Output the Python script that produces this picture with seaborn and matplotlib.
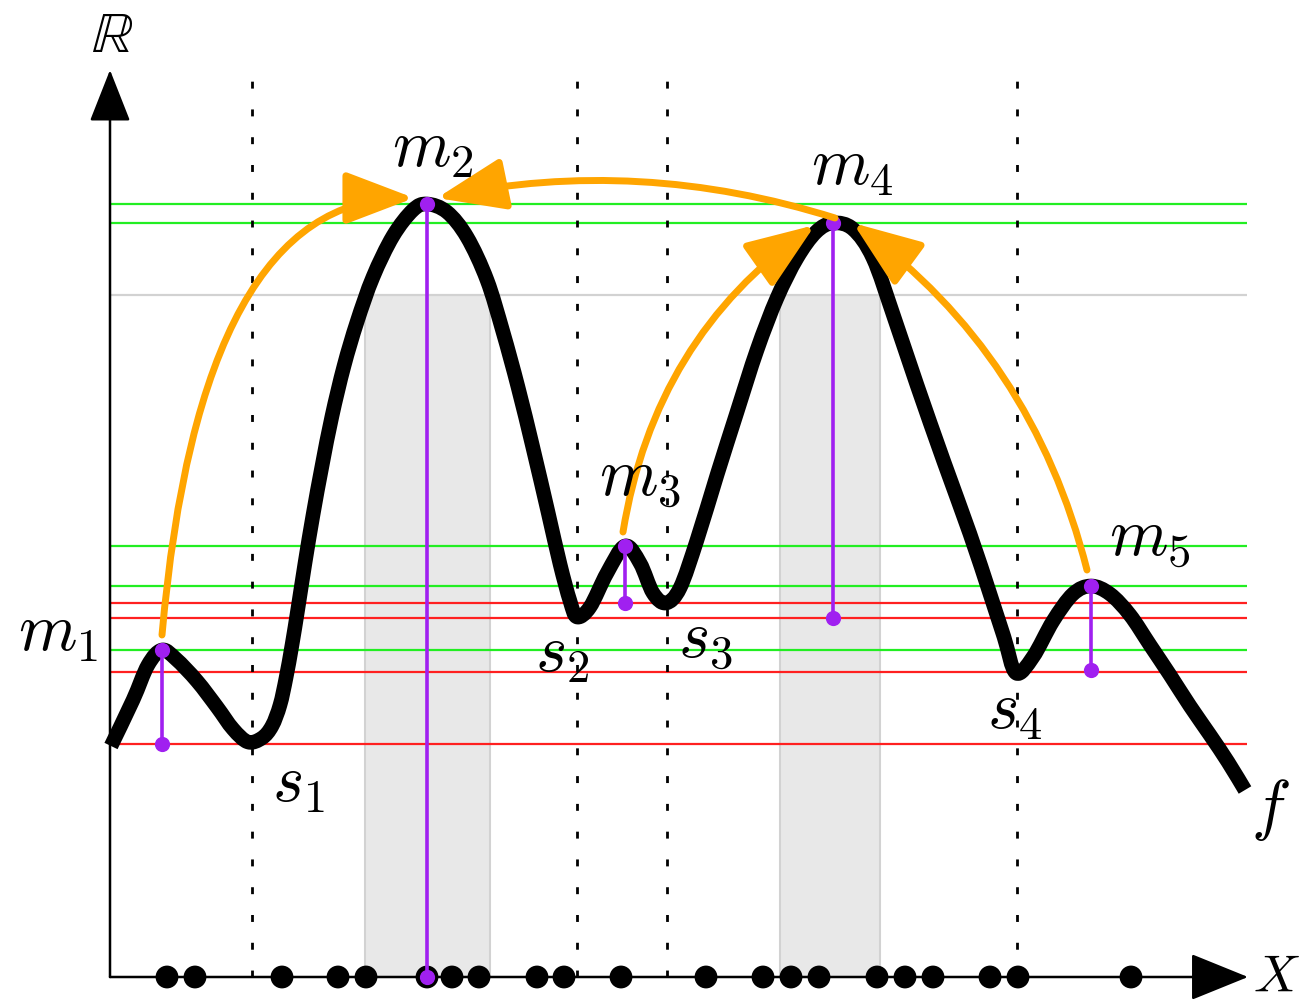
import matplotlib
matplotlib.use("Agg")
import matplotlib.pyplot as plt
from matplotlib.patches import FancyArrowPatch, PathPatch
from matplotlib.path import Path
import numpy as np
import seaborn as sns

# curve f (x from the origin, height above the X axis)
curve_x = [1, 23, 38, 52, 66, 87, 107, 123, 138, 152, 162, 170, 176, 182, 188, 195,
           203, 212, 222, 234, 247, 263, 283, 303, 317, 337, 357, 377, 393, 408, 423,
           438, 450, 460, 467, 480, 497, 515, 530, 543, 556, 570, 587, 607, 627, 647,
           667, 687, 706, 723, 743, 763, 784, 807, 834, 860, 880, 894, 906, 923, 943,
           963, 981, 1000, 1020, 1040, 1060, 1080, 1100, 1118, 1135]
curve_f = [231, 277, 312, 327, 318, 296, 270, 248, 235, 239, 251, 272, 299, 332, 369, 414,
           462, 511, 561, 611, 655, 700, 741, 767, 773, 765, 740, 697, 645, 590, 529,
           465, 413, 376, 360, 370, 404, 431, 414, 384, 374, 389, 437, 502, 565, 627,
           679, 719, 745, 754, 748, 719, 660, 592, 515, 443, 383, 340, 304, 320, 356,
           383, 391, 383, 362, 332, 302, 271, 242, 215, 187]

# critical points
max_x = [52, 317, 515, 723, 981]
max_f = [327, 773, 431, 754, 391]
death_f = [233, 0, 374, 359, 307]
min_x = [142, 467, 557, 907]
min_f = [233, 359, 374, 305]

# threshold level and the two grey strips
grey_level = 682
strips = [(255, 380), (670, 770)]

# sample points on X
samples = [57, 85, 172, 228, 256, 317, 342, 369, 427, 454, 511, 596, 653, 681, 709,
           767, 795, 823, 880, 908, 1021]

# merge arrows: (start, end, connection style)
arrows = [((52, 342), (304, 779), "angle3,angleA=85,angleB=0"),
          ((725, 759), (327, 779), "arc3,rad=0.13"),
          ((513, 445), (705, 752), "arc3,rad=-0.21"),
          ((977, 407), (743, 754), "arc3,rad=0.18")]

labels = {r"$m_1$": (-52, 345), r"$m_2$": (323, 829), r"$m_3$": (530, 499),
          r"$m_4$": (742, 811), r"$m_5$": (1040, 439), r"$s_1$": (188, 194),
          r"$s_2$": (452, 324), r"$s_3$": (595, 337), r"$s_4$": (905, 267),
          r"$f$": (1160, 167)}

x_end = 1137

sns.set_theme(style="white")
plt.rcParams["mathtext.fontset"] = "cm"
plt.rcParams["text.color"] = "black"

fig = plt.figure(figsize=(13.16, 10.01), dpi=100)
ax = fig.add_axes([0, 0, 1, 1])
ax.set_xlim(-110, 1206)
ax.set_ylim(-24, 977)
ax.axis("off")

# grey strips and the grey level
for a, b in strips:
    ax.fill_between([a, b], 0, grey_level, color="#e8e8e8", lw=0, zorder=1)
    ax.vlines([a, b], 0, grey_level, color="#d2d2d2", lw=1.5, zorder=1.2)
ax.hlines(grey_level, 0, x_end, color="#d2d2d2", lw=1.6, zorder=1.3)

# level lines
ax.hlines(max_f, 0, x_end, color="#22ee22", lw=1.6, zorder=2)
ax.hlines(min_f, 0, x_end, color="#ff2020", lw=1.6, zorder=2)

# dotted lines at the saddles
ax.vlines(min_x, 0, 909, color="black", lw=2, linestyles=(0, (2.5, 7.5)), zorder=2.5)

# axes with arrow heads
ax.add_patch(FancyArrowPatch((0, 0), (0, 907), arrowstyle="-|>,head_length=33,head_width=13",
                             color="black", lw=1.8, shrinkA=0, shrinkB=0, zorder=3))
ax.add_patch(FancyArrowPatch((0, 0), (1138, 0), arrowstyle="-|>,head_length=37,head_width=15",
                             color="black", lw=1.8, shrinkA=0, shrinkB=0, zorder=3))

# the function, drawn as a smooth bezier path through the read points
pts = np.column_stack([curve_x, curve_f]).astype(float)
ext = np.vstack([pts[:1], pts, pts[-1:]])
verts = [pts[0]]
codes = [Path.MOVETO]
for i in range(1, len(ext) - 2):
    p0, p1, p2, p3 = ext[i - 1], ext[i], ext[i + 1], ext[i + 2]
    verts += [p1 + (p2 - p0) / 6, p2 - (p3 - p1) / 6, p2]
    codes += [Path.CURVE4] * 3
ax.add_patch(PathPatch(Path(verts, codes), fill=False, edgecolor="black", lw=10.5,
                       capstyle="butt", joinstyle="round", zorder=4))

sns.scatterplot(x=samples, y=[0] * len(samples), color="black", s=270, edgecolor="none",
                ax=ax, zorder=5, legend=False)

# persistence stems
ax.vlines(max_x, death_f, max_f, color="#a020f0", lw=2.6, zorder=6)
ax.scatter(max_x + max_x, max_f + death_f, color="#a020f0", s=120, zorder=6.5, lw=0)

for (p0, p1, cs) in arrows:
    ax.add_patch(FancyArrowPatch(p0, p1, connectionstyle=cs,
                                 arrowstyle="-|>,head_length=42,head_width=16",
                                 color="#ffa500", lw=5, shrinkA=0, shrinkB=0, zorder=7))

for txt, (x, y) in labels.items():
    ax.text(x, y, txt, fontsize=48, color="black", ha="center", va="center", zorder=8)
ax.text(2, 942, r"$\mathbb{R}$", fontsize=42, color="black", ha="center", va="center")
ax.text(1166, 0, r"$X$", fontsize=38, color="black", ha="center", va="center")

fig.savefig("out.png", dpi=100)
